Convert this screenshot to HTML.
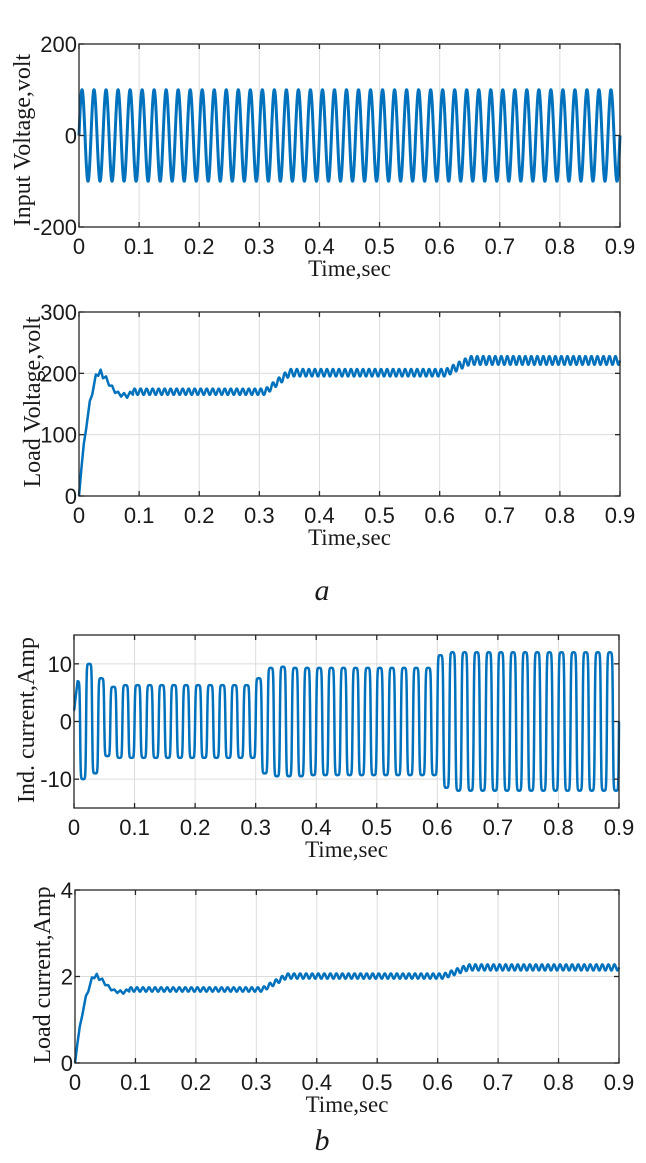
<!DOCTYPE html>
<html><head><meta charset="utf-8">
<style>
html,body{margin:0;padding:0;background:#fff;}
body{width:646px;height:1163px;overflow:hidden;}
svg{display:block;}
.tick{font-family:"Liberation Sans",sans-serif;font-size:22px;fill:#1a1a1a;}
.lab{font-family:"Liberation Serif",serif;font-size:23px;fill:#1a1a1a;}
.ylab{font-family:"Liberation Serif",serif;font-size:24px;fill:#1a1a1a;}
.cap{font-family:"Liberation Serif",serif;font-style:italic;font-size:30px;fill:#1a1a1a;}
</style></head>
<body>
<svg id="fig" width="646" height="1163" viewBox="0 0 646 1163" xmlns="http://www.w3.org/2000/svg">
<text class="cap" x="322" y="600" text-anchor="middle">a</text>
<text class="cap" x="322" y="1150" text-anchor="middle">b</text>
</svg>
<script>
// x-axis data
const xTicks = [0,0.1,0.2,0.3,0.4,0.5,0.6,0.7,0.8,0.9];
const xTickLabels = ["0","0.1","0.2","0.3","0.4","0.5","0.6","0.7","0.8","0.9"];
// input voltage
const vinAmplitude = [100];
const vinFrequency = [50];
// load voltage: startup keypoints then steady levels
const vloadStartT = [0,0.004,0.008,0.012,0.018,0.022,0.028,0.032,0.036,0.04,0.045,0.05,0.055,0.06,0.065,0.07,0.075,0.08,0.085,0.09];
const vloadStartV = [0,45,85,110,155,165,198,196,206,192,195,180,180,168,170,162,168,160,170,165];
const vloadLevelT = [0.09,0.31,0.35,0.61,0.65,0.9];
const vloadLevelV = [170,170,201,201,221,221];
const vloadRipple = [5,5,6,6,7,7];
// inductor current: per 20 ms cycle, positive and negative plateau values
const indPos = [7,10,7.5,6,6.3,6.3,6.3,6.3,6.3,6.3,6.3,6.3,6.3,6.3,6.3,7.5,9.3,9.5,9.3,9.3,9.3,9.3,9.3,9.3,9.3,9.3,9.3,9.3,9.3,9.3,11.5,12,12,12,12,12,12,12,12,12,12,12,12,12,12];
const indNeg = [-10,-9,-6,-6.3,-6.3,-6.3,-6.3,-6.3,-6.3,-6.3,-6.3,-6.3,-6.3,-6.3,-6.3,-9,-9.5,-9.5,-9.5,-9.3,-9.3,-9.3,-9.3,-9.3,-9.3,-9.3,-9.3,-9.3,-9.3,-9.3,-11.5,-12,-12,-12,-12,-12,-12,-12,-12,-12,-12,-12,-12,-12,-12];
// y ticks
const y1Ticks = [-200,0,200];
const y2Ticks = [0,100,200,300];
const y3Ticks = [-10,0,10];
const y4Ticks = [0,2,4];

const NS="http://www.w3.org/2000/svg";
const svg=document.getElementById('fig');
function mk(tag,attrs,parent){const e=document.createElementNS(NS,tag);for(const k in attrs)e.setAttribute(k,attrs[k]);(parent||svg).appendChild(e);return e;}
function interp(ts,vs,t){if(t<=ts[0])return vs[0];for(let i=1;i<ts.length;i++){if(t<=ts[i]){const f=(t-ts[i-1])/(ts[i]-ts[i-1]);return vs[i-1]+f*(vs[i]-vs[i-1]);}}return vs[vs.length-1];}

function vin(t){return vinAmplitude[0]*Math.sin(2*Math.PI*vinFrequency[0]*t);}
function vload(t){
  if(t<vloadStartT[vloadStartT.length-1])return interp(vloadStartT,vloadStartV,t);
  const lvl=interp(vloadLevelT,vloadLevelV,t), r=interp(vloadLevelT,vloadRipple,t);
  return lvl+r*Math.sin(2*Math.PI*100*t);
}
function iload(t){return vload(t)/100;}
function iind(t){
  const k=Math.min(indPos.length-1,Math.floor(t/0.02));
  const s=Math.sin(2*Math.PI*50*t);
  const sh=Math.tanh(3.5*s)/Math.tanh(3.5);
  let v=sh>0?sh*indPos[k]:-sh*indNeg[k];
  if(t<0.006)v=2+(v-2)*(t/0.006);
  return v;
}

function plot(cfg){
  const g=mk('g',{});
  
  
  const {x0,x1,y0,y1,ymin,ymax}=cfg;
  const X=t=>x0+(t-0)/(0.9)*(x1-x0);
  const Y=v=>y1-(v-ymin)/(ymax-ymin)*(y1-y0);
  xTicks.forEach(t=>{if(t>0&&t<0.9){const l=mk('line',{x1:X(t),x2:X(t),y1:y0,y2:y1,stroke:'#dcdcdc','stroke-width':1},g);}});
  cfg.yticks.forEach(v=>{if(v>ymin&&v<ymax){const l=mk('line',{x1:x0,x2:x1,y1:Y(v),y2:Y(v),stroke:'#dcdcdc','stroke-width':1},g);}});
  let d='';const N=cfg.n||3000;
  for(let i=0;i<=N;i++){const t=0.9*i/N;const v=cfg.f(t);d+=(i?'L':'M')+X(t).toFixed(2)+','+Y(v).toFixed(2);}
  const p=mk('path',{d:d,fill:'none',stroke:'#0072bd','stroke-width':cfg.sw||2.5,'stroke-linejoin':'round'},g);
  
  
  const b=mk('rect',{x:x0,y:y0,width:x1-x0,height:y1-y0,fill:'none',stroke:'#262626','stroke-width':1.3},g);
  
  
  xTicks.forEach((t,i)=>{
    mk('line',{x1:X(t),x2:X(t),y1:y1,y2:y1-5,stroke:'#262626','stroke-width':1.3},g);
    mk('line',{x1:X(t),x2:X(t),y1:y0,y2:y0+5,stroke:'#262626','stroke-width':1.3},g);
    const tx=mk('text',{x:X(t),y:y1+27,'text-anchor':'middle',class:'tick'},g);
    tx.textContent=xTickLabels[i];
    
    
  });
  cfg.yticks.forEach(v=>{
    mk('line',{x1:x0,x2:x0+5,y1:Y(v),y2:Y(v),stroke:'#262626','stroke-width':1.3},g);
    mk('line',{x1:x1,x2:x1-5,y1:Y(v),y2:Y(v),stroke:'#262626','stroke-width':1.3},g);
    const tx=mk('text',{x:x0-2,y:Y(v)+8,'text-anchor':'end',class:'tick'},g);
    tx.textContent=String(v);
    
    
  });
  const xl=mk('text',{x:(x0+x1)/2,y:y1+49,'text-anchor':'middle',class:'lab'},g);
  xl.textContent='Time,sec';
  
  
  const yl=mk('text',{x:0,y:0,'text-anchor':'middle',class:'ylab',transform:`translate(${cfg.ylx},${cfg.yly}) rotate(-90)`},g);
  yl.textContent=cfg.ylabel;
  
  
}
plot({name:'input-voltage-chart',x0:79,x1:620,y0:44,y1:227,ymin:-200,ymax:200,yticks:y1Ticks,f:vin,sw:3,n:6000,ylabel:'Input Voltage,volt',ylx:30,yly:140});
plot({name:'load-voltage-chart',x0:79,x1:620,y0:312,y1:496,ymin:0,ymax:300,yticks:y2Ticks,f:vload,sw:2.5,n:4000,ylabel:'Load Voltage,volt',ylx:40,yly:402});
plot({name:'inductor-current-chart',x0:74,x1:619,y0:635,y1:808,ymin:-15,ymax:15,yticks:y3Ticks,f:iind,sw:2.5,n:6000,ylabel:'Ind. current,Amp',ylx:34,yly:720});
plot({name:'load-current-chart',x0:75,x1:619,y0:890,y1:1063,ymin:0,ymax:4,yticks:y4Ticks,f:iload,sw:2.5,n:4000,ylabel:'Load current,Amp',ylx:50,yly:975});
</script>
</body></html>
